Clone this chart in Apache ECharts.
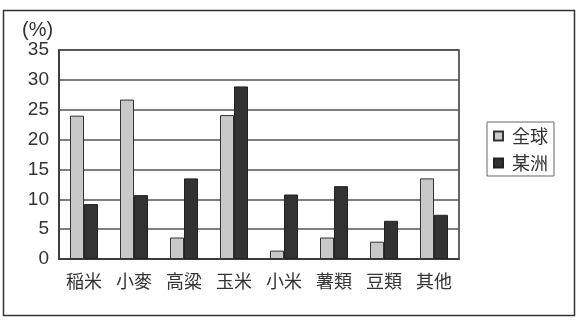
<!DOCTYPE html>
<html><head><meta charset="utf-8">
<script src="https://cdn.jsdelivr.net/npm/echarts@6/dist/echarts.min.js"></script>
<style>html,body{margin:0;padding:0;background:#fff}#c{width:581px;height:327px}</style>
</head><body><div id="c"></div>
<script>
const categories = ['稲米','小麥','高粱','玉米','小米','薯類','豆類','其他'];
const globalVals = [24.0, 26.7, 3.6, 24.1, 1.4, 3.6, 2.9, 13.5];
const regionVals = [9.2, 10.7, 13.5, 28.9, 10.8, 12.2, 6.4, 7.4];
const seriesNames = ['全球','某洲'];
const yTicks = [0,5,10,15,20,25,30,35];

const FONT = '"Noto Sans CJK JP", "Noto Sans", sans-serif';
const NUMFONT = '"Liberation Sans", Arial, sans-serif';
const chart = echarts.init(document.getElementById('c'), null, {renderer:'canvas'});
chart.setOption({
  animation:false,
  backgroundColor:'#fff',
  textStyle:{fontFamily:FONT},
  graphic:[
    {type:'rect', shape:{x:3.5,y:10.5,width:571,height:305}, style:{fill:'none',stroke:'#333',lineWidth:1.5}},
    {type:'text', left:22, top:20, style:{text:'(%)', font:'20px ' + NUMFONT, fill:'#333'}}
  ],
  grid:{left:59, top:50, width:400, height:209, show:true, borderColor:'#333', borderWidth:1.5, backgroundColor:'transparent'},
  legend:{
    orient:'vertical', left:487, top:122,
    data:seriesNames,
    itemWidth:9, itemHeight:9, itemGap:9,
    padding:[5,6,4,6],
    borderColor:'#666', borderWidth:1,
    textStyle:{fontSize:18, color:'#333', fontFamily:FONT, padding:[0,0,0,4]},
    icon:'rect'
  },
  xAxis:{
    type:'category', data:categories,
    axisLine:{lineStyle:{color:'#333', width:1.5}},
    axisTick:{inside:true, length:5, lineStyle:{color:'#555', width:1.5}},
    axisLabel:{fontSize:18, color:'#333', margin:13, fontFamily:FONT},
    splitLine:{show:false}
  },
  yAxis:{
    type:'value', min:0, max:35, interval:5,
    axisLine:{show:true, lineStyle:{color:'#333', width:1.5}},
    axisTick:{show:false},
    axisLabel:{fontSize:19, color:'#333', margin:10, fontFamily:NUMFONT,
      formatter:v => yTicks.includes(v) ? String(v) : ''},
    splitLine:{lineStyle:{color:'#555', width:1.5}}
  },
  series:[
    {name:seriesNames[0], type:'bar', data:globalVals, barWidth:14, barGap:'0%',
     itemStyle:{color:'#c8c8c8', borderColor:'#333', borderWidth:1}},
    {name:seriesNames[1], type:'bar', data:regionVals, barWidth:14, barGap:'0%',
     itemStyle:{color:'#333333', borderColor:'#222', borderWidth:1}}
  ]
});
</script></body></html>
